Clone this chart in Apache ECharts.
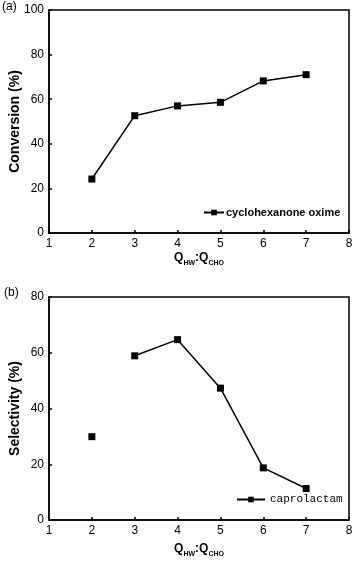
<!DOCTYPE html>
<html>
<head>
<meta charset="utf-8">
<script src="https://cdn.jsdelivr.net/npm/echarts@6/dist/echarts.min.js"></script>
<style>
  html, body { margin: 0; padding: 0; background: #fff; }
  #chart { width: 354px; height: 562px; }
</style>
</head>
<body>
<div id="chart"></div>
<script>
// data
var ratio = [2, 3, 4, 5, 6, 7];
var conversion = [24.2, 52.6, 57.0, 58.6, 68.2, 71.0];
var selectivity = [29.9, 58.9, 64.7, 47.3, 18.7, 11.3];
var xTicks = [1, 2, 3, 4, 5, 6, 7, 8];

var font = 'Liberation Sans, Arial, sans-serif';
var chart = echarts.init(document.getElementById('chart'));

function pairs(xs, ys) {
  return xs.map(function (x, i) { return [x, ys[i]]; });
}

// Q_HW:Q_CHO as rich text
var xName = '{q|Q}{s|HW}{q|:Q}{s|CHO}';
var xNameStyle = {
  fontFamily: font,
  rich: {
    q: { fontSize: 12, fontWeight: 'bold', color: '#000', fontFamily: font, lineHeight: 14, verticalAlign: 'bottom' },
    s: { fontSize: 7, fontWeight: 'bold', color: '#000', fontFamily: font, lineHeight: 14, verticalAlign: 'bottom', padding: [0, 0, -3, 0] }
  }
};

function xAxis(idx, gap) {
  return {
    type: 'value', gridIndex: idx, min: 1, max: 8, interval: 1,
    name: xName, nameLocation: 'middle', nameGap: gap, nameTextStyle: xNameStyle,
    nameMoveOverlap: false,
    axisLine: { lineStyle: { color: '#000', width: 1.5 } },
    axisTick: { inside: true, length: 3, lineStyle: { color: '#000', width: 1.5 } },
    axisLabel: { color: '#000', fontSize: 12, fontFamily: font, margin: 5,
      formatter: function (v) { return xTicks.indexOf(v) >= 0 ? String(v) : ''; } },
    splitLine: { show: false }
  };
}

function yAxis(idx, max, name) {
  return {
    type: 'value', gridIndex: idx, min: 0, max: max, interval: 20,
    name: name, nameLocation: 'middle', nameGap: 27, nameMoveOverlap: false,
    nameTextStyle: { color: '#000', fontSize: 14, fontWeight: 'bold', fontFamily: font },
    axisLine: { lineStyle: { color: '#000', width: 1.5 } },
    axisTick: { inside: true, length: 3, lineStyle: { color: '#000', width: 1.5 } },
    axisLabel: { color: '#000', fontSize: 12, fontFamily: font, margin: 5 },
    splitLine: { show: false }
  };
}

var lineStyle = { color: '#000', width: 1.5 };
var itemStyle = { color: '#000' };

var option = {
  animation: false,
  grid: [
    { left: 49, top: 10, width: 300, height: 223, show: true, borderColor: '#000', borderWidth: 1.5,
      backgroundColor: 'transparent', containLabel: false, outerBoundsMode: 'none' },
    { left: 49, top: 297, width: 300, height: 223, show: true, borderColor: '#000', borderWidth: 1.5,
      backgroundColor: 'transparent', containLabel: false, outerBoundsMode: 'none' }
  ],
  xAxis: [xAxis(0, 17), xAxis(1, 21)],
  yAxis: [yAxis(0, 100, 'Conversion (%)'), yAxis(1, 80, 'Selectivity (%)')],
  legend: [
    { data: ['cyclohexanone oxime'], left: 203, top: 207, itemWidth: 20, itemHeight: 7, itemGap: 0, padding: 0,
      textStyle: { color: '#000', fontSize: 11, fontWeight: 'bold', fontFamily: font, padding: [0, 0, 0, -3] } },
    { data: ['caprolactam'], left: 236, top: 494, itemWidth: 28, itemHeight: 7, itemGap: 0, padding: 0,
      textStyle: { color: '#000', fontSize: 11, fontFamily: 'Liberation Mono, DejaVu Sans Mono, monospace' } }
  ],
  graphic: [
    { type: 'text', left: 2, top: 1, style: { text: '(a)', fontSize: 12, fontFamily: font, fill: '#000' } },
    { type: 'text', left: 4, top: 287, style: { text: '(b)', fontSize: 12, fontFamily: font, fill: '#000' } }
  ],
  series: [
    { name: 'cyclohexanone oxime', type: 'line', xAxisIndex: 0, yAxisIndex: 0,
      data: pairs(ratio, conversion), symbol: 'rect', symbolSize: 7,
      lineStyle: lineStyle, itemStyle: itemStyle },
    // the first point of (b) stands alone in the picture
    { name: 'caprolactam', type: 'line', xAxisIndex: 1, yAxisIndex: 1,
      data: pairs(ratio.slice(1), selectivity.slice(1)), symbol: 'rect', symbolSize: 7,
      lineStyle: lineStyle, itemStyle: itemStyle },
    { name: 'caprolactam', type: 'line', xAxisIndex: 1, yAxisIndex: 1,
      data: pairs(ratio.slice(0, 1), selectivity.slice(0, 1)), symbol: 'rect', symbolSize: 7,
      lineStyle: lineStyle, itemStyle: itemStyle }
  ]
};
chart.setOption(option);
</script>
</body>
</html>
